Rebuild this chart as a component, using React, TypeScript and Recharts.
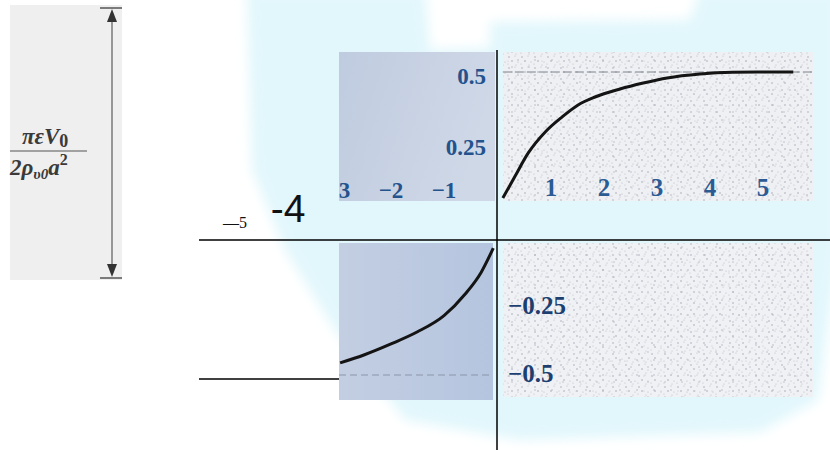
import React from "react";
import { LineChart, Line, XAxis, YAxis, ReferenceLine } from "recharts";

// curve for x > 0 (upper half, rises toward +0.5)
const POS_X = [0.11, 0.34, 0.59, 0.91, 1.23, 1.53, 1.85, 2.32, 2.76, 3.21, 3.83, 4.45, 5.09, 5.59];
const POS_Y = [0.056, 0.133, 0.215, 0.289, 0.342, 0.384, 0.412, 0.44, 0.461, 0.479, 0.493, 0.499, 0.5, 0.5];

// curve for x < 0 (lower half, falls toward -0.5)
const NEG_X = [-2.96, -2.5, -2.0, -1.5, -1.0, -0.6, -0.3, -0.07];
const NEG_Y = [-0.455, -0.425, -0.385, -0.34, -0.28, -0.2, -0.12, -0.03];

const X_TICKS = [-5, -4, -3, -2, -1, 1, 2, 3, 4, 5];
const TOP_Y_TICKS = [0.25, 0.5];
const BOTTOM_Y_TICKS = [-0.5, -0.25];
const LIMIT = 0.5;

const posData = POS_X.map((x, i) => ({ x, v: POS_Y[i] }));
const negData = NEG_X.map((x, i) => ({ x, v: NEG_Y[i] }));

const W = 830;
const H = 450;

const BLUE = "#23528c";

const XTick = (props: any) => {
  const { x, payload } = props;
  const v = payload.value as number;
  if (v === -5) {
    return (
      <text x={x + 3} y={228} textAnchor="middle" fontFamily="Liberation Serif" fontSize={16} fill="#111">
        {"\u2014" + Math.abs(v)}
      </text>
    );
  }
  if (v === -4) {
    return (
      <text x={x + 3} y={222} textAnchor="middle" fontFamily="Liberation Sans" fontSize={39} fill="#111">
        {"-" + Math.abs(v)}
      </text>
    );
  }
  if (v < 0) {
    return (
      <text
        x={x}
        y={198}
        textAnchor="middle"
        fontFamily="Liberation Serif"
        fontWeight="bold"
        fontSize={23}
        fill={BLUE}
        clipPath="url(#tlClip)"
      >
        {"\u2212" + Math.abs(v)}
      </text>
    );
  }
  return (
    <text x={x + 1} y={196} textAnchor="middle" fontFamily="Liberation Serif" fontWeight="bold" fontSize={25} fill="#2c5b93">
      {v}
    </text>
  );
};

const TopYTick = (props: any) => {
  const { y, payload } = props;
  return (
    <text x={486} y={y + 4} textAnchor="end" dominantBaseline="central" fontFamily="Liberation Serif" fontWeight="bold" fontSize={23} fill={BLUE}>
      {payload.value}
    </text>
  );
};

const BottomYTick = (props: any) => {
  const { y, payload } = props;
  return (
    <text x={508} y={y - 2} textAnchor="start" dominantBaseline="central" fontFamily="Liberation Serif" fontWeight="bold" fontSize={25} fill="#1c3f70">
      {"\u2212" + Math.abs(payload.value)}
    </text>
  );
};

const Backdrop = () => (
  <svg width={W} height={H} style={{ position: "absolute", left: 0, top: 0 }}>
    <defs>
      <filter id="soft" x="-10%" y="-10%" width="120%" height="120%">
        <feGaussianBlur stdDeviation="6" />
      </filter>
      <pattern id="dotsA" width="13" height="11" patternUnits="userSpaceOnUse">
        <circle cx="2" cy="2" r="0.8" fill="#a8adb8" />
        <circle cx="8" cy="1" r="0.6" fill="#b3b7c1" />
        <circle cx="5" cy="6" r="0.8" fill="#a3a9b5" />
        <circle cx="11" cy="7" r="0.6" fill="#b0b5bf" />
        <circle cx="1" cy="9" r="0.6" fill="#b5b9c3" />
        <circle cx="9" cy="10" r="0.5" fill="#aab0bb" />
      </pattern>
      <pattern id="dotsB" width="17" height="15" patternUnits="userSpaceOnUse" x="5" y="3">
        <circle cx="3" cy="12" r="0.7" fill="#a6abb6" />
        <circle cx="14" cy="4" r="0.7" fill="#afb3be" />
        <circle cx="10" cy="13" r="0.5" fill="#b4b8c2" />
      </pattern>
      <linearGradient id="blueTop" x1="0" y1="0" x2="1" y2="0.3">
        <stop offset="0" stopColor="#bfcbdf" />
        <stop offset="1" stopColor="#cfd8e7" />
      </linearGradient>
      <linearGradient id="blueBottom" x1="0" y1="0" x2="1" y2="0">
        <stop offset="0" stopColor="#c3cee2" />
        <stop offset="1" stopColor="#b5c5df" />
      </linearGradient>
      <clipPath id="tlClip" clipPathUnits="userSpaceOnUse">
        <rect x={339} y={40} width={156} height={170} />
      </clipPath>
    </defs>

    {/* faint cyan backdrop */}
    <polygon
      points="247,-10 425,-10 430,50 490,48 490,22 690,20 700,-10 840,-10 840,240 818,400 760,432 520,440 405,420 335,330 285,250 252,170"
      fill="#e2f7fc"
      filter="url(#soft)"
    />

    {/* scale bar with formula */}
    <rect x={10} y={5} width={112} height={275} fill="#efefef" />
    <line x1={100} y1={8} x2={122} y2={8} stroke="#555" strokeWidth={1.5} />
    <line x1={100} y1={278} x2={122} y2={278} stroke="#555" strokeWidth={1.5} />
    <line x1={112} y1={12} x2={112} y2={274} stroke="#666" strokeWidth={1.3} />
    <polygon points="112,9 107,22 117,22" fill="#333" />
    <polygon points="112,277 107,264 117,264" fill="#333" />
    <text x={22} y={144} fontFamily="Liberation Serif" fontStyle="italic" fontWeight="bold" fontSize={23} fill="#3a3a3a">
      {"\u03c0\u03b5V"}
      <tspan fontStyle="normal" fontSize={18} dy={3}>0</tspan>
    </text>
    <line x1={10} y1={151} x2={87} y2={151} stroke="#555" strokeWidth={1.2} />
    <text x={10} y={175} fontFamily="Liberation Serif" fontStyle="italic" fontWeight="bold" fontSize={23} fill="#3a3a3a">
      {"2\u03c1"}
      <tspan fontSize={15} dy={4}>{"\u03c50"}</tspan>
      <tspan dy={-4}>a</tspan>
      <tspan fontStyle="normal" fontSize={16} dy={-10}>2</tspan>
    </text>

    {/* plot panels */}
    <rect x={339} y={52} width={156} height={149} fill="url(#blueTop)" />
    <rect x={339} y={243} width={154} height={157} fill="url(#blueBottom)" />
    <rect x={503} y={52} width={310} height={149} fill="#eff0f3" />
    <rect x={503} y={52} width={310} height={149} fill="url(#dotsA)" />
    <rect x={503} y={52} width={310} height={149} fill="url(#dotsB)" />
    <rect x={503} y={243} width={310} height={154} fill="#f0f1f4" />
    <rect x={503} y={243} width={310} height={154} fill="url(#dotsA)" />
    <rect x={503} y={243} width={310} height={154} fill="url(#dotsB)" />
  </svg>
);

export default function App() {
  return (
    <div style={{ position: "absolute", left: 0, top: 0, width: W, height: H, background: "#fff", overflow: "hidden" }}>
      <Backdrop />
      <div style={{ position: "absolute", left: 0, top: 0 }}>
        <LineChart width={W} height={H} margin={{ top: 0, right: 0, bottom: 0, left: 0 }} style={{ overflow: "visible" }}>
          <XAxis
            type="number"
            dataKey="x"
            domain={[-497 / 53, 333 / 53]}
            allowDataOverflow
            ticks={X_TICKS}
            interval={0}
            mirror
            axisLine={false}
            tickLine={false}
            tick={<XTick />}
          />
          <YAxis
            yAxisId="top"
            type="number"
            domain={[-236 / 284, 214 / 284]}
            allowDataOverflow
            ticks={TOP_Y_TICKS}
            interval={0}
            mirror
            axisLine={false}
            tickLine={false}
            tick={<TopYTick />}
          />
          <YAxis
            yAxisId="bottom"
            type="number"
            domain={[-210 / 270, 240 / 270]}
            allowDataOverflow
            ticks={BOTTOM_Y_TICKS}
            interval={0}
            mirror
            axisLine={false}
            tickLine={false}
            tick={<BottomYTick />}
          />

          {/* asymptotes */}
          <ReferenceLine
            yAxisId="top"
            segment={[{ x: 0.11, y: LIMIT }, { x: 5.94, y: LIMIT }]}
            stroke="#7d828c"
            strokeWidth={1}
            strokeDasharray="9 3"
            ifOverflow="visible"
          />
          <ReferenceLine
            yAxisId="bottom"
            segment={[{ x: -2.98, y: -LIMIT }, { x: -0.08, y: -LIMIT }]}
            stroke="#8a96aa"
            strokeWidth={1.2}
            strokeDasharray="7 4"
            ifOverflow="visible"
          />

          {/* axes */}
          <ReferenceLine
            yAxisId="bottom"
            segment={[{ x: 0, y: 190 / 270 }, { x: 0, y: -210 / 270 }]}
            stroke="#000"
            strokeWidth={1.5}
            ifOverflow="visible"
          />
          <ReferenceLine
            yAxisId="bottom"
            segment={[{ x: -298 / 53, y: 0 }, { x: 333 / 53, y: 0 }]}
            stroke="#000"
            strokeWidth={1.5}
            ifOverflow="visible"
          />
          <ReferenceLine
            yAxisId="bottom"
            segment={[{ x: -298 / 53, y: -139 / 270 }, { x: -158 / 53, y: -139 / 270 }]}
            stroke="#000"
            strokeWidth={1.5}
            ifOverflow="visible"
          />

          <Line
            yAxisId="top"
            data={posData}
            dataKey="v"
            type="monotone"
            stroke="#141414"
            strokeWidth={3}
            dot={false}
            activeDot={false}
            isAnimationActive={false}
          />
          <Line
            yAxisId="bottom"
            data={negData}
            dataKey="v"
            type="monotone"
            stroke="#141414"
            strokeWidth={3}
            dot={false}
            activeDot={false}
            isAnimationActive={false}
          />
        </LineChart>
      </div>
    </div>
  );
}
